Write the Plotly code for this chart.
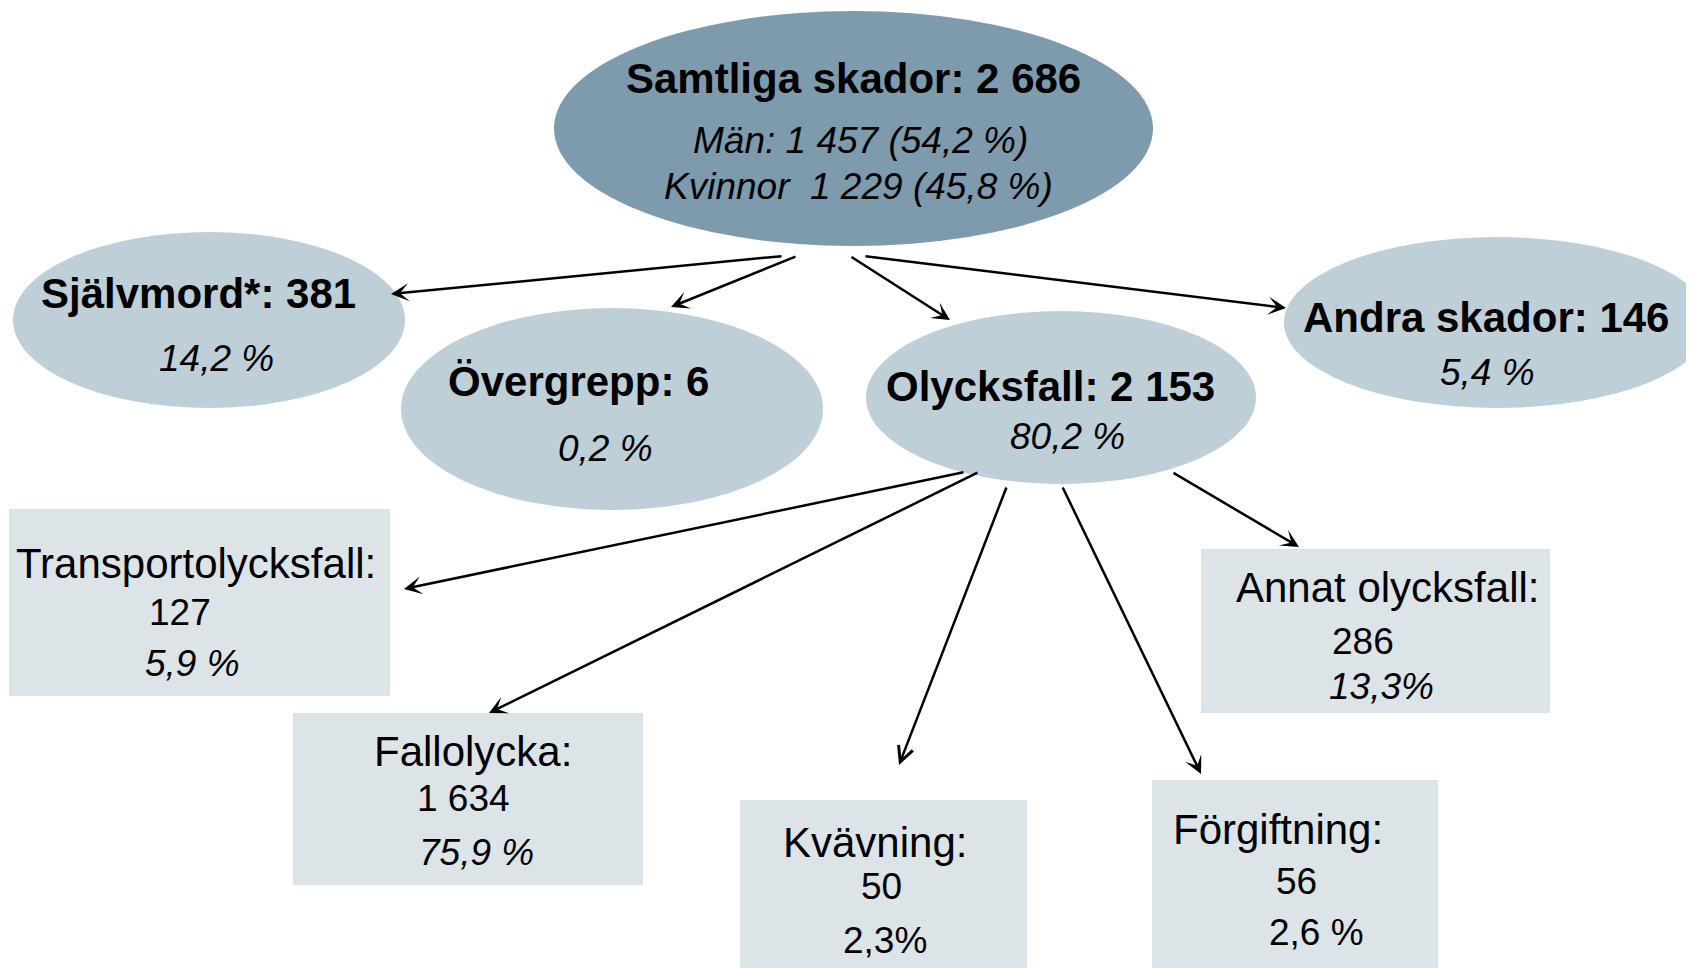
import plotly.graph_objects as go

# ---------------- data ----------------
total_label = "Samtliga skador"
total_count = "2 686"
men_count, men_pct = "1 457", "54,2 %"
women_count, women_pct = "1 229", "45,8 %"

level2_names = ["Självmord*", "Övergrepp", "Olycksfall", "Andra skador"]
level2_counts = ["381", "6", "2 153", "146"]
level2_pcts = ["14,2 %", "0,2 %", "80,2 %", "5,4 %"]

level3_names = ["Transportolycksfall", "Fallolycka", "Kvävning", "Förgiftning", "Annat olycksfall"]
level3_counts = ["127", "1 634", "50", "56", "286"]
level3_pcts = ["5,9 %", "75,9 %", "2,3%", "2,6 %", "13,3%"]
level3_pct_italic = [True, True, False, False, True]

# ---------------- layout (pixel geometry of the page) ----------------
W, H = 1694, 968
OFF = 8  # default page body margin
FONT = "Liberation Sans, Arial, sans-serif"
C_TOP = "#7d9bac"
C_MID = "#bfcfd8"
C_BOX = "#dde4e8"
BOLD_SIZE = 42
TITLE_SIZE = 42
ITAL_SIZE = 37
NUM_SIZE = 37

top_ell = dict(x0=554, x1=1153, y0=11, y1=246)
top_text_y = [78, 140, 186]
top_text_x = [853, 860, 858]

l2_ell = [
    dict(x0=13, x1=405, y0=232, y1=408),
    dict(x0=401, x1=823, y0=308, y1=510),
    dict(x0=866, x1=1256, y0=311, y1=484),
    dict(x0=1284, x1=1710, y0=237, y1=408),
]
l2_title_xy = [(198, 293), (578, 381), (1050, 386), (1486, 317)]
l2_pct_xy = [(216, 358), (605, 448), (1067, 436), (1487, 372)]

l3_box = [
    dict(x0=9, x1=390, y0=509, y1=696),
    dict(x0=293, x1=643, y0=713, y1=885),
    dict(x0=740, x1=1027, y0=800, y1=990),
    dict(x0=1152, x1=1438, y0=780, y1=990),
    dict(x0=1201, x1=1550, y0=549, y1=713),
]
l3_title_xy = [(196, 563), (473, 751), (875, 842), (1278, 829), (1387, 587)]
l3_count_xy = [(180, 612), (463, 798), (881, 886), (1296, 881), (1363, 641)]
l3_pct_xy = [(192, 663), (476, 852), (885, 940), (1316, 932), (1381, 686)]

arrows_l2 = [((783, 256), (391, 294)), ((797, 256), (671, 307)),
             ((850, 256), (950, 320)), ((864, 256), (1286, 308))]
arrows_l3 = [((965, 472), (404, 589)), ((979, 472), (489, 713)),
             ((1007, 486), (899, 765)), ((1062, 486), (1201, 774)),
             ((1172, 472), (1299, 547))]
arrow_heads_l3 = [3, 3, 5, 3, 3]

fig = go.Figure()
shapes = []
annotations = []


def text(x, y, s, size, bold=False, italic=False):
    if bold:
        s = "<b>" + s + "</b>"
    if italic:
        s = "<i>" + s + "</i>"
    annotations.append(dict(x=x, y=y, xref="x", yref="y", text=s, showarrow=False,
                            xanchor="center", yanchor="middle",
                            font=dict(family=FONT, size=size, color="black")))


# top ellipse
shapes.append(dict(type="circle", xref="x", yref="y", fillcolor=C_TOP,
                   line=dict(width=0), layer="below", **top_ell))
text(top_text_x[0], top_text_y[0], f"{total_label}: {total_count}", BOLD_SIZE, bold=True)
text(top_text_x[1], top_text_y[1], f"Män: {men_count} ({men_pct})", ITAL_SIZE, italic=True)
text(top_text_x[2], top_text_y[2], f"Kvinnor  {women_count} ({women_pct})", ITAL_SIZE, italic=True)

# level 2
for i, name in enumerate(level2_names):
    shapes.append(dict(type="circle", xref="x", yref="y", fillcolor=C_MID,
                       line=dict(width=0), layer="below", **l2_ell[i]))
    text(*l2_title_xy[i], f"{name}: {level2_counts[i]}", BOLD_SIZE, bold=True)
    text(*l2_pct_xy[i], level2_pcts[i], ITAL_SIZE, italic=True)

# level 3
for i, name in enumerate(level3_names):
    shapes.append(dict(type="rect", xref="x", yref="y", fillcolor=C_BOX,
                       line=dict(width=0), layer="below", **l3_box[i]))
    text(*l3_title_xy[i], f"{name}:", TITLE_SIZE)
    text(*l3_count_xy[i], level3_counts[i], NUM_SIZE)
    text(*l3_pct_xy[i], level3_pcts[i], NUM_SIZE, italic=level3_pct_italic[i])

# arrows
heads = [3] * len(arrows_l2) + arrow_heads_l3
for ((sx, sy), (ex, ey)), hd in zip(arrows_l2 + arrows_l3, heads):
    annotations.append(dict(x=ex, y=ey, ax=sx, ay=sy, xref="x", yref="y",
                            axref="x", ayref="y", text="", showarrow=True,
                            arrowhead=hd, arrowsize=1.2, arrowwidth=2.5,
                            arrowcolor="black", standoff=0, startstandoff=0))

# invisible trace to set up axes
fig.add_trace(go.Scatter(x=[OFF, W], y=[OFF, H], mode="markers",
                         marker=dict(opacity=0), hoverinfo="skip", showlegend=False))

fig.update_layout(
    width=W - OFF, height=H - OFF,
    margin=dict(l=0, r=0, t=0, b=0),
    paper_bgcolor="white", plot_bgcolor="white",
    shapes=shapes, annotations=annotations,
    xaxis=dict(range=[OFF, W], visible=False, fixedrange=True),
    yaxis=dict(range=[H, OFF], visible=False, fixedrange=True),
    showlegend=False,
)

fig.write_html("out.html", config={"displayModeBar": False})
